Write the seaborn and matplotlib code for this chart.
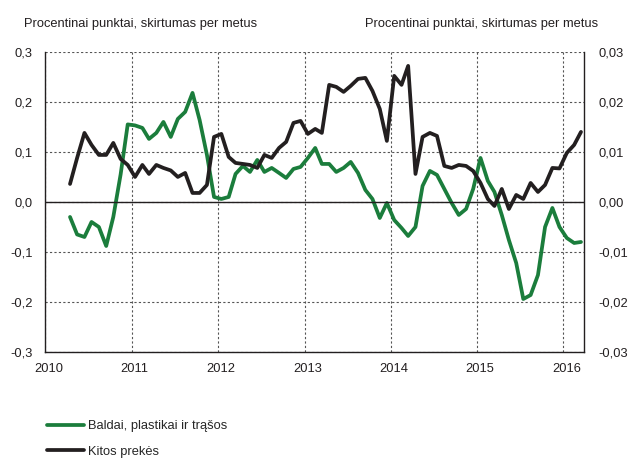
# Grafikas: Baldai, plastikai ir trąšos vs Kitos prekės
import pandas as pd
import seaborn as sns
import matplotlib.pyplot as plt
import matplotlib.dates as mdates
import matplotlib.transforms as mtransforms
from matplotlib.ticker import FuncFormatter, MultipleLocator
from matplotlib.lines import Line2D

# menesiai: 2010-04 ... 2016-03 (taskai menesio viduryje)
menesiai = pd.date_range('2010-04-01', '2016-03-01', freq='MS') + pd.Timedelta(days=14)

# kaire asis (procentiniai punktai)
baldai = [
    -0.030, -0.065, -0.070, -0.040, -0.050, -0.088, -0.030, 0.055, 0.155, 0.153, 0.148, 0.126,
    0.138, 0.160, 0.130, 0.166, 0.180, 0.218, 0.164, 0.094, 0.010, 0.006, 0.010, 0.056,
    0.072, 0.060, 0.084, 0.060, 0.068, 0.058, 0.048, 0.066, 0.070, 0.088, 0.108, 0.076,
    0.076, 0.060, 0.068, 0.080, 0.058, 0.024, 0.006, -0.032, -0.002, -0.036, -0.052, -0.068,
    -0.050, 0.032, 0.062, 0.054, 0.026, -0.002, -0.026, -0.014, 0.026, 0.088, 0.042, 0.020,
    -0.026, -0.076, -0.122, -0.194, -0.186, -0.146, -0.050, -0.012, -0.050, -0.072, -0.082, -0.080,
]

# desine asis
kitos = [
    0.0036, 0.0088, 0.0138, 0.0114, 0.0094, 0.0094, 0.0118, 0.0086, 0.0074, 0.0050, 0.0074, 0.0056,
    0.0074, 0.0068, 0.0063, 0.0050, 0.0058, 0.0018, 0.0018, 0.0034, 0.0130, 0.0136, 0.0090, 0.0078,
    0.0076, 0.0074, 0.0068, 0.0094, 0.0088, 0.0108, 0.0120, 0.0158, 0.0162, 0.0136, 0.0146, 0.0138,
    0.0234, 0.0230, 0.0220, 0.0232, 0.0246, 0.0248, 0.0222, 0.0186, 0.0122, 0.0252, 0.0234, 0.0272,
    0.0056, 0.0130, 0.0138, 0.0132, 0.0072, 0.0068, 0.0074, 0.0072, 0.0062, 0.0038, 0.0006, -0.0008,
    0.0026, -0.0014, 0.0014, 0.0006, 0.0038, 0.0020, 0.0034, 0.0068, 0.0067, 0.0098, 0.0114, 0.0140,
]

serijos = ['Baldai, plastikai ir trąšos', 'Kitos prekės']
antraste = 'Procentinai punktai, skirtumas per metus'

df = pd.DataFrame({'data': menesiai, 'baldai': baldai, 'kitos': kitos})

zalia = '#1b7d3c'
juoda = '#231f20'

sns.set_style('white')
plt.rcParams['font.family'] = ['Liberation Sans', 'DejaVu Sans']
plt.rcParams['font.size'] = 9.3

fig = plt.figure(figsize=(6.31, 4.59), dpi=100)
ax = fig.add_axes([0.072, 0.233, 0.854, 0.654])
ax2 = ax.twinx()

sns.lineplot(data=df, x='data', y='baldai', ax=ax, color=zalia, lw=2.7)
sns.lineplot(data=df, x='data', y='kitos', ax=ax2, color=juoda, lw=2.7)

# asys
ax.set_ylim(-0.3, 0.3)
ax2.set_ylim(-0.03, 0.03)
ax.set_xlim(pd.Timestamp('2010-01-01'), pd.Timestamp('2016-03-29'))
ax.yaxis.set_major_locator(MultipleLocator(0.1))
ax2.yaxis.set_major_locator(MultipleLocator(0.01))
ax.yaxis.set_major_formatter(FuncFormatter(lambda v, p: f'{v:.1f}'.replace('.', ',').replace('-0,0', '0,0')))
ax2.yaxis.set_major_formatter(FuncFormatter(lambda v, p: f'{v:.2f}'.replace('.', ',').replace('-0,00', '0,00')))
ax.xaxis.set_major_locator(mdates.YearLocator())
ax.xaxis.set_major_formatter(mdates.DateFormatter('%Y'))
ax.set_xlabel('')
ax.set_ylabel('')
ax2.set_ylabel('')

ax.tick_params(axis='y', length=0, pad=9, labelsize=9.3, colors='#231f20')
ax2.tick_params(axis='y', length=0, pad=10, labelsize=9.3, colors='#231f20')
ax.tick_params(axis='x', length=0, pad=8, labelsize=9.3, colors='#231f20')
offset = mtransforms.ScaledTranslation(3 / 100, 0, fig.dpi_scale_trans)
for lab in ax.get_xticklabels():
    lab.set_transform(lab.get_transform() + offset)

# tinklelis
ax.grid(True, axis='both', color='#555555', linestyle=(0, (2, 2)), lw=0.8)
ax.axhline(0, color=juoda, lw=1)

for s in ['top', 'right']:
    ax.spines[s].set_visible(False)
for s in ['left', 'bottom']:
    ax.spines[s].set_color(juoda)
    ax.spines[s].set_linewidth(1)
for s in ['top', 'left', 'bottom']:
    ax2.spines[s].set_visible(False)
ax2.spines['right'].set_color(juoda)
ax2.spines['right'].set_linewidth(1)

fig.text(24 / 631, 1 - 27 / 459, antraste, ha='left', va='baseline', fontsize=9.3, color='#231f20')
fig.text(598 / 631, 1 - 27 / 459, antraste, ha='right', va='baseline', fontsize=9.3, color='#231f20')

# legenda
rankenos = [Line2D([], [], color=zalia, lw=2.7), Line2D([], [], color=juoda, lw=2.7)]
fig.legend(rankenos, serijos, loc='upper left', bbox_to_anchor=(47 / 631, 1 - 420 / 459),
           frameon=False, borderaxespad=0, borderpad=0, handlelength=2.9,
           handletextpad=0.25, labelspacing=1.05, fontsize=9.3)

fig.savefig('out.png', dpi=100)
